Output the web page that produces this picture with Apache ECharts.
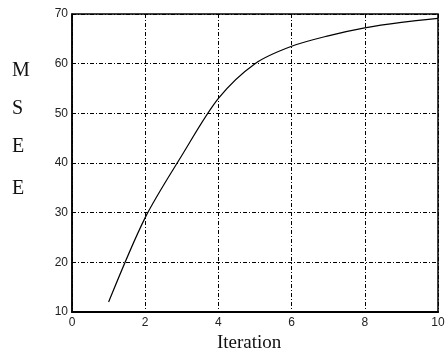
<!DOCTYPE html>
<html><head><meta charset="utf-8">
<script src="https://cdn.jsdelivr.net/npm/echarts@6/dist/echarts.min.js"></script>
<style>html,body{margin:0;padding:0;background:#fff}#c{width:448px;height:358px}</style>
</head><body><div id="c"></div>
<script>
var iterations = [1, 2, 3, 4, 5, 6, 7, 8, 9, 10];
var mse = [12, 29, 41.5, 53, 60, 63.5, 65.6, 67.2, 68.3, 69.1];
var yLabelLetters = ['M', 'S', 'E', 'E'];
var xAxisTitle = 'Iteration';

var chart = echarts.init(document.getElementById('c'), null, {renderer: 'canvas'});
var gridLine = {show: true, lineStyle: {color: '#000', width: 1, type: [4, 2, 1, 2]}};
var lbl = {color: '#222', fontSize: 12, fontFamily: 'Liberation Sans, Arial, sans-serif'};
var letterY = [72, 110, 148, 190];
var graphics = yLabelLetters.map(function (t, i) {
  return {type: 'text', left: 12, top: letterY[i] - 11,
    style: {text: t, fontSize: 20, fontFamily: 'Liberation Serif, Times New Roman, serif', fill: '#111'}};
});
graphics.push({type: 'text', left: 217, top: 334,
  style: {text: xAxisTitle, fontSize: 19, fontFamily: 'Liberation Serif, Times New Roman, serif', fill: '#111'}});
chart.setOption({
  animation: false,
  backgroundColor: '#fff',
  grid: {left: 72, right: 10, top: 14, bottom: 46, show: true, borderColor: '#000', borderWidth: 1.5, backgroundColor: 'transparent'},
  xAxis: {type: 'value', min: 0, max: 10, interval: 2,
    axisLine: {show: true, onZero: false, lineStyle: {color: '#000', width: 2}},
    axisTick: {show: false},
    axisLabel: Object.assign({margin: 5}, lbl),
    splitLine: gridLine},
  yAxis: {type: 'value', min: 10, max: 70, interval: 10,
    axisLine: {show: true, lineStyle: {color: '#000', width: 1.5}},
    axisTick: {show: false},
    axisLabel: Object.assign({margin: 4}, lbl),
    splitLine: gridLine},
  series: [{type: 'line', data: iterations.map(function (x, i) { return [x, mse[i]]; }),
    smooth: 0.3, showSymbol: false, lineStyle: {color: '#000', width: 1.2}}],
  graphic: graphics
});
</script></body></html>
